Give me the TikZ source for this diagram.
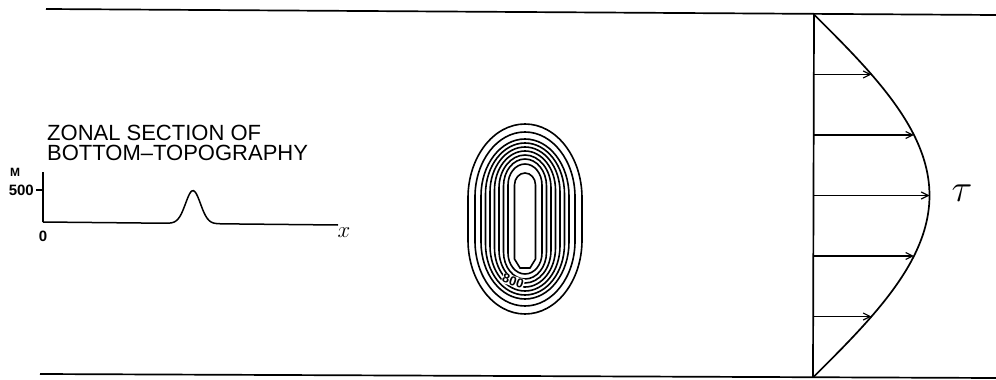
\documentclass[tikz,border=0pt]{standalone}
\usepackage{fontspec}
\setmainfont{Liberation Sans}
\usetikzlibrary{arrows.meta}
\begin{document}
\begin{tikzpicture}[x=1pt,y=1pt,
  wall/.style={line width=1.7pt},
  contour/.style={line width=1.6pt},
  flow/.style={line width=1.2pt,-{Straight Barb[length=7pt,width=7pt,line width=1.2pt]}},
  axis/.style={line width=1.5pt},
  lbl/.style={inner sep=0pt,font=\fontsize{22}{22}\selectfont}]
\useasboundingbox (0,0) rectangle (996,-380);
% channel walls
\coordinate (tl) at (46,-9);
\coordinate (tr) at (996,-15);
\coordinate (bl) at (40,-374);
\coordinate (br) at (996,-378);
\draw[wall] (tl) -- (tr);
\draw[wall] (bl) -- (br);
% wind stress profile
\coordinate (vt) at (814,-14);
\coordinate (vb) at (813,-377);
\draw[wall] (vt) -- (vb);
\draw[wall] plot[domain=-1:1,samples=60,smooth] ({813.5+116*cos(90*\x)},{-195.5+181.5*\x});
\foreach \t in {-0.6667,-0.3333,0,0.3333,0.6667}{
  \coordinate (s) at (813.5,{-195.5+181.5*\t});
  \coordinate (e) at ({813.5+116*cos(90*\t)},{-195.5+181.5*\t});
  \draw[flow] (s) -- (e);
}
\node[inner sep=0pt] (tau) at (962,-193) {\scalebox{1.55}{\fontsize{24.88}{25}\selectfont$\tau$}};
% inset: zonal section
\node[lbl,anchor=west] (t1) at (47,-133) {ZONAL SECTION OF};
\node[lbl,anchor=west] (t2) at (47,-153) {BOTTOM–TOPOGRAPHY};
\coordinate (o) at (43,-222);
\coordinate (ytop) at (43,-172);
\draw[axis] (ytop) -- (o);
\draw[axis] plot[domain=43:338,samples=150,smooth] (\x,{-(222+3*(\x-43)/295) + 33*exp(-((\x-193)/10.5)^2)});
\coordinate (tk) at (36,-190);
\draw[axis] (tk) -- (43,-190);
\node[inner sep=0pt,anchor=east,font=\fontsize{15}{15}\selectfont\bfseries] (v500) at (34,-190) {500};
\node[inner sep=0pt,font=\fontsize{12}{12}\selectfont\bfseries] (unit) at (15,-172) {M};
\node[inner sep=0pt,font=\fontsize{15}{15}\selectfont\bfseries] (zero) at (43,-236) {0};
\node[inner sep=0pt] (xl) at (344,-233) {\scalebox{1.1}{\fontsize{20.74}{21}\selectfont$x$}};
% topographic contours
\begin{scope}[shift={(525,-219)}]
\foreach \a/\b/\c in {17/55/21,21.5/60/27,26/64/33,30.5/68/39,35/72/45,39.5/76/51,44/80/57,50/87/65,57/95/74}{
  \draw[contour] (\a,{\b-\c}) arc[start angle=0,end angle=180,x radius=\a,y radius=\c] -- (-\a,{-(\b-\c)}) arc[start angle=180,end angle=360,x radius=\a,y radius=\c] -- cycle;
}
\draw[contour] (10.5,34) arc[start angle=0,end angle=180,x radius=10.5,y radius=12] -- (-10.5,-40) -- (-5,-49) -- (5,-49) -- (10.5,-40) -- cycle;
\node[fill=white,inner sep=0.5pt,rotate=-18,font=\fontsize{13}{13}\selectfont\bfseries] (c800) at (-12,-62) {800};
\end{scope}
\end{tikzpicture}
\end{document}
